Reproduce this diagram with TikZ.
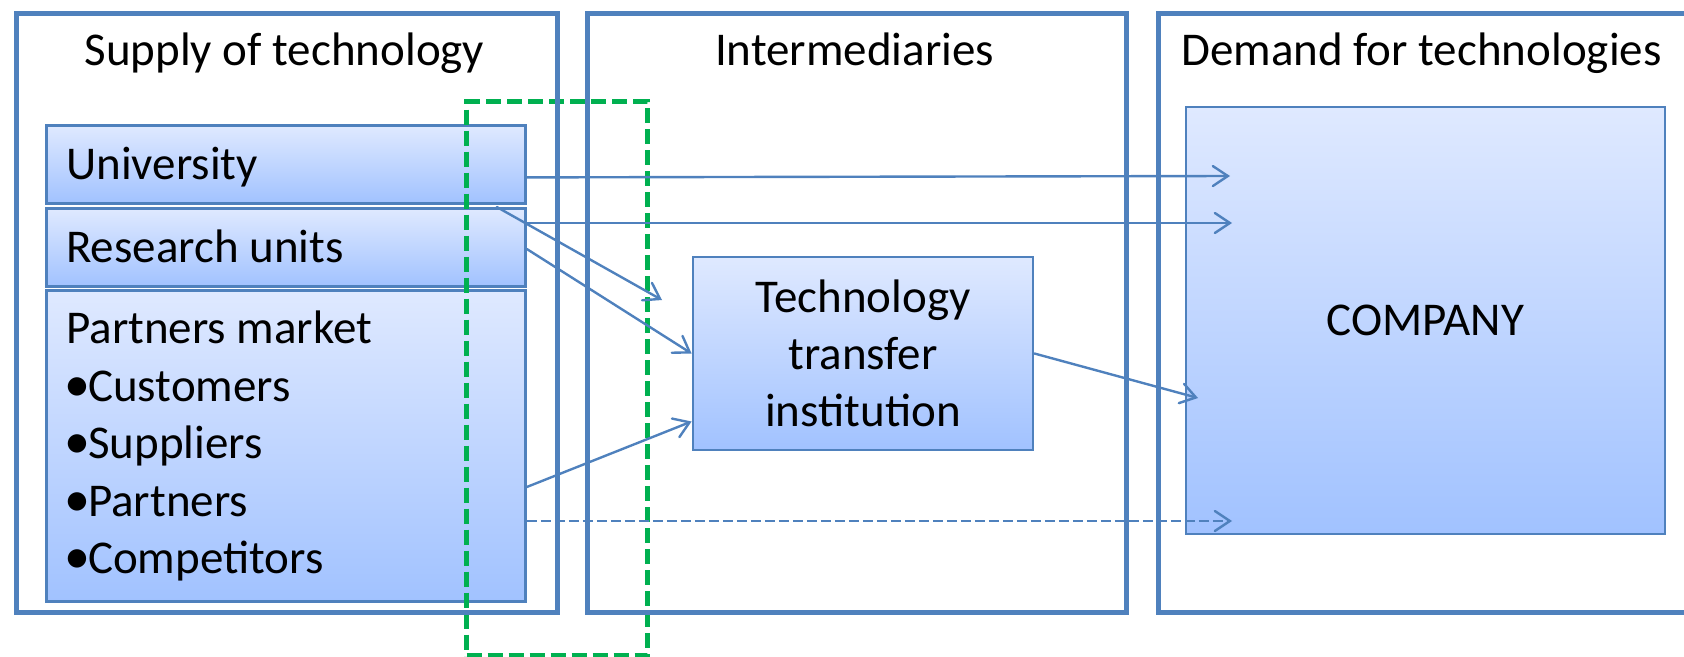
\documentclass[tikz,border=0pt]{standalone}
\usepackage{fontspec}
\setmainfont{Carlito}
\usetikzlibrary{arrows.meta}
\definecolor{blu}{RGB}{79,129,189}
\definecolor{grn}{RGB}{0,176,80}
\definecolor{gtop}{RGB}{223,233,255}
\definecolor{gbot}{RGB}{161,194,255}
\newcommand{\mybul}{{\fontsize{52}{57}\selectfont •}\kern-2pt}
\begin{document}
\begin{tikzpicture}[x=1pt,y=-1pt,
  font=\fontsize{47}{57}\selectfont,
  panel/.style={draw=blu, line width=5pt, inner sep=0pt, anchor=north west},
  box/.style={draw=blu, line width=2.8pt, top color=gtop, bottom color=gbot, inner sep=0pt, anchor=north west},
  lbl/.style={inner sep=0pt, anchor=base west},
  arr/.style={draw=blu, line width=2.4pt, line cap=round, -{Straight Barb[length=15pt,width=20pt,line cap=round]}},
  grnbox/.style={draw=grn, line width=5pt, dash pattern=on 15pt off 6pt, inner sep=0pt, anchor=north west}]
\useasboundingbox (0,0) rectangle (1684,656);
\clip (0,0) rectangle (1684,656);
% inner boxes
\node[box, minimum width=479pt, minimum height=78pt] (uni) at (45,124) {};
\node[box, minimum width=479pt, minimum height=78pt] (res) at (45,207) {};
\node[box, minimum width=479pt, minimum height=311pt] (pmk) at (45,289) {};
\node[box, minimum width=340pt, minimum height=193pt, anchor=center, align=center] (tti) at (863,353.5) {Technology\\transfer\\institution};
\node[box, minimum width=479pt, minimum height=427pt, anchor=center] (comp) at (1425.5,320.5) {COMPANY};
% green focus frame
\node[grnbox, minimum width=181pt, minimum height=554pt] (focus) at (464,99) {};
% panels
\node[panel, minimum width=541pt, minimum height=599pt] (psup) at (14,11) {};
\node[panel, minimum width=539pt, minimum height=599pt] (pint) at (585,11) {};
\node[panel, minimum width=600pt, minimum height=599pt] (pdem) at (1156,11) {};
% titles
\node[inner sep=0pt, anchor=base] (tsup) at (284.5,65) {Supply of technology};
\node[inner sep=0pt, anchor=base] (tint) at (854.5,65) {Intermediaries};
\node[lbl] (tdem) at (1181,65) {Demand for technologies};
% labels
\node[lbl] (luni) at (66,179) {University};
\node[lbl] (lres) at (66,262) {Research units};
\node[lbl] (lpm) at (66,343) {Partners market};
\node[lbl] (lcus) at (64,401) {\mybul Customers};
\node[lbl] (lsup) at (64,458) {\mybul Suppliers};
\node[lbl] (lpar) at (64,516) {\mybul Partners};
\node[lbl] (lcom) at (64,573) {\mybul Competitors};
% arrow ends
\coordinate (e1) at (1230,176);
\coordinate (e2) at (1232,223);
\coordinate (e3) at (662,300);
\coordinate (e6) at (1198,398);
\coordinate (e7) at (1232,521);
% arrows
\draw[arr] ([yshift=-13pt]uni.east) -- (e1);
\draw[arr] ([yshift=-16pt]res.north east) -- (e2);
\draw[arr] ([xshift=-30pt]res.north east) -- (e3);
\draw[arr] ([yshift=-42pt]res.north east) -- (tti.west);
\draw[arr] ([yshift=-198pt]pmk.north east) -- ([yshift=-68pt]tti.west);
\draw[arr] (tti.east) -- (e6);
\draw[arr, line cap=butt, dash pattern=on 10pt off 4pt] ([yshift=-232pt]pmk.north east) -- (e7);
\end{tikzpicture}
\end{document}
